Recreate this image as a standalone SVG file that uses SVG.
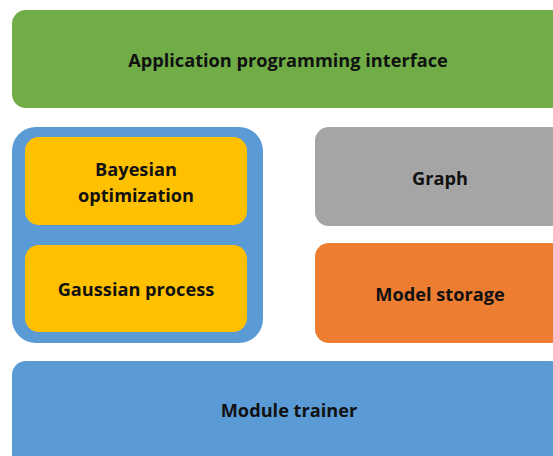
<svg xmlns="http://www.w3.org/2000/svg" width="553" height="456" viewBox="0 0 553 456">
  <style>
    .box { stroke: none; }
    .lbl { font-family: "Open Sans", "Liberation Sans", sans-serif; font-weight: bold; font-size: 18.2px; fill: #111111; text-anchor: middle; dominant-baseline: central; }
  </style>
  <rect width="553" height="456" fill="#ffffff"/>
  <g id="api">
    <rect class="box" x="12" y="10" width="553" height="98" rx="14" fill="#70AD47"/>
    <text class="lbl" x="288" y="60">Application programming interface</text>
  </g>
  <g id="optimizer">
    <rect class="box" x="12" y="127" width="251" height="216" rx="24" fill="#5B9BD5"/>
  </g>
  <g id="bayesian">
    <rect class="box" x="25" y="137" width="222" height="88" rx="14" fill="#FFC000"/>
    <text class="lbl" x="136" y="169">Bayesian</text>
    <text class="lbl" x="136" y="195">optimization</text>
  </g>
  <g id="gaussian">
    <rect class="box" x="25" y="245" width="222" height="87" rx="14" fill="#FFC000"/>
    <text class="lbl" x="136" y="289">Gaussian process</text>
  </g>
  <g id="graph">
    <rect class="box" x="315" y="127" width="250" height="99" rx="14" fill="#A5A5A5"/>
    <text class="lbl" x="440" y="178">Graph</text>
  </g>
  <g id="storage">
    <rect class="box" x="315" y="243" width="250" height="100" rx="14" fill="#ED7D31"/>
    <text class="lbl" x="440" y="294">Model storage</text>
  </g>
  <g id="trainer">
    <rect class="box" x="12" y="361" width="553" height="110" rx="14" fill="#5B9BD5"/>
    <text class="lbl" x="289" y="410">Module trainer</text>
  </g>
  <g id="connectors"></g>
</svg>
